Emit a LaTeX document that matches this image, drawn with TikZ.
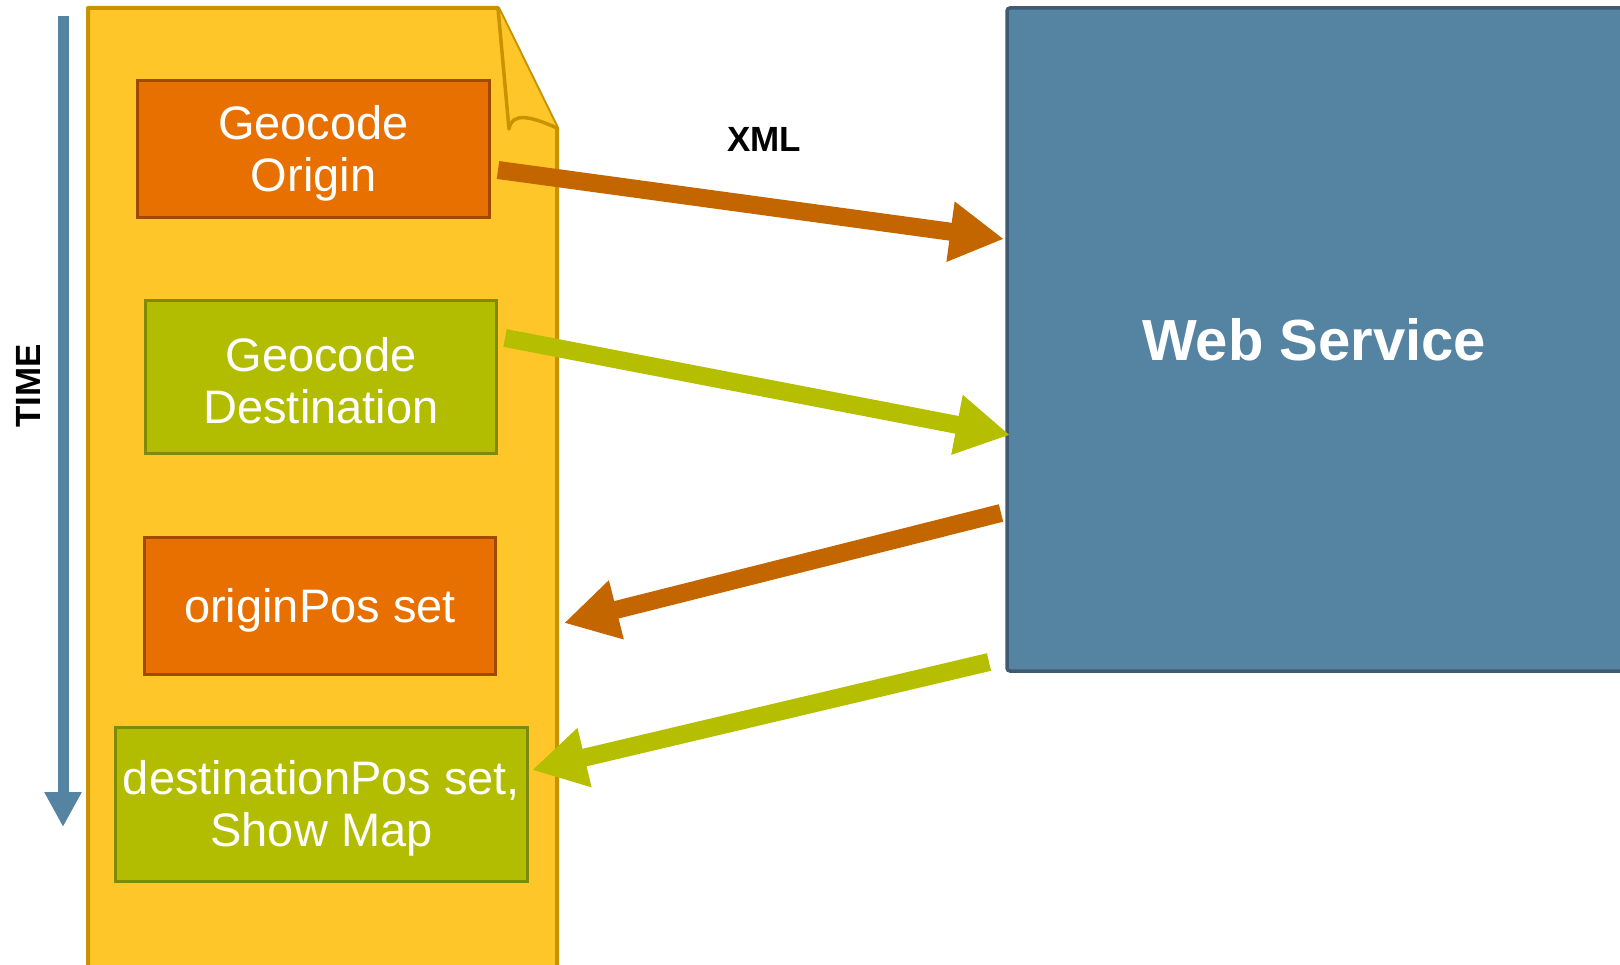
\documentclass[tikz,border=0pt]{standalone}
\usepackage{fontspec}
\setmainfont{Liberation Sans}
\usetikzlibrary{arrows.meta}
\definecolor{docfill}{HTML}{FFC629}
\definecolor{docline}{HTML}{C99300}
\definecolor{orfill}{HTML}{E87000}
\definecolor{orline}{HTML}{A04A00}
\definecolor{grfill}{HTML}{B2BC00}
\definecolor{grline}{HTML}{7D8A0A}
\definecolor{wsfill}{HTML}{5583A2}
\definecolor{wsline}{HTML}{3E5B72}
\definecolor{orarrow}{HTML}{C46600}
\definecolor{grarrow}{HTML}{B5BF00}
\begin{document}
\begin{tikzpicture}[x=1pt,y=-1pt,
  steptext/.style={text=white, align=center, inner sep=0pt, yshift=-4pt,
    font=\fontsize{47}{52}\selectfont},
  stepbox/.style={draw, line width=3.8pt, inner sep=0pt},
  orbox/.style={stepbox, fill=orfill, draw=orline},
  grbox/.style={stepbox, fill=grfill, draw=grline},
  flow/.style={line width=18pt, -{Triangle[length=54pt,width=57pt]}},
  boldlabel/.style={font=\bfseries\fontsize{#1}{#1}\selectfont},
]
\useasboundingbox (0,0) rectangle (1620,965);

% page with the folded corner
\path[fill=docfill, draw=docline, line width=4pt, line join=round]
  (88,8) -- (498,8) -- (557,128) -- (557,1000) -- (88,1000) -- cycle;
\path[fill=docfill, draw=docline, line width=3.5pt, line join=round]
  (498,8) -- (509,129) .. controls (512,112) and (530,116) .. (557,128);

% web service
\path[fill=wsfill, draw=wsline, line width=3.5pt, rounded corners=3pt]
  (1007,8) rectangle (1660,671);
\node[boldlabel=58, text=white] (ws) at (1314,340) {Web Service};

% steps on the page
\node[orbox, minimum width=352pt, minimum height=137pt,
  label={[steptext]center:{Geocode\\Origin}}] (o) at (313.5,149) {};
\node[grbox, minimum width=351pt, minimum height=153pt,
  label={[steptext]center:{Geocode\\Destination}}] (d) at (321,377) {};
\node[orbox, minimum width=351pt, minimum height=137pt,
  label={[steptext]center:{originPos set}}] (op) at (320,606) {};
\node[grbox, minimum width=412pt, minimum height=154pt,
  label={[steptext]center:{destinationPos set,\\Show Map}}] (dp) at (321.5,804.5) {};

% time axis
\coordinate (t0) at (63,16);
\coordinate (t1) at (63,827);
\draw[wsfill, line width=11pt, -{Triangle[length=35pt,width=35pt]}] (t0) -- (t1);
\node[boldlabel=35, rotate=90] (time) at (28,386) {TIME};

% request / response arrows
\coordinate (a1s) at (498,170);
\coordinate (a1e) at (1004,239);
\coordinate (a2s) at (505,338);
\coordinate (a2e) at (1010,435);
\coordinate (a3s) at (1001,513);
\coordinate (a3e) at (564,623);
\coordinate (a4s) at (989,662);
\coordinate (a4e) at (532,770);
\draw[flow, orarrow] (a1s) -- (a1e);
\draw[flow, grarrow] (a2s) -- (a2e);
\draw[flow, orarrow] (a3s) -- (a3e);
\draw[flow, grarrow] (a4s) -- (a4e);
\node[boldlabel=35] (xml) at (764,139) {XML};
\end{tikzpicture}
\end{document}
